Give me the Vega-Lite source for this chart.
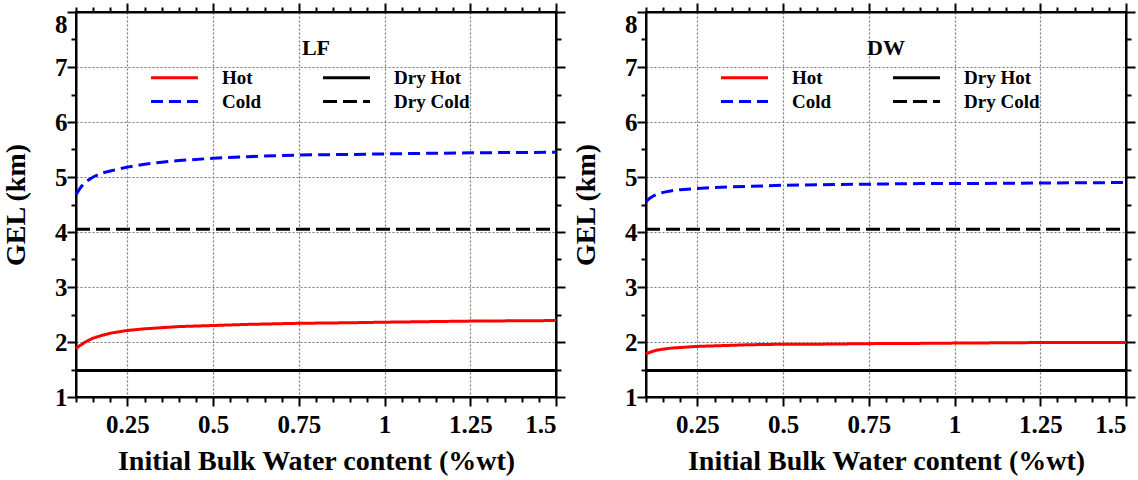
{
  "$schema": "https://vega.github.io/schema/vega-lite/v6.json",
  "padding": {"left": 1, "top": 1, "right": 5, "bottom": 2},
  "background": "white",
  "spacing": 90,
  "bounds": "flush",
  "config": {
    "view": {"stroke": "black", "strokeWidth": 2},
    "axis": {
      "titleFont": "Liberation Serif", "titleFontWeight": "bold", "titleFontSize": 28, "titleColor": "black",
      "labelFont": "Liberation Serif", "labelFontWeight": "bold", "labelFontSize": 25, "labelColor": "black",
      "domainColor": "black", "domainWidth": 2, "tickColor": "black", "tickWidth": 2,
      "gridColor": "#777777", "gridDash": [2, 2], "gridWidth": 1.2,
      "labelOverlap": false, "labelBound": false
    }
  },
  "data": {"values": [
    {"panel": "LF", "series": "Hot", "x": 0.1, "y": 1.88},
    {"panel": "LF", "series": "Hot", "x": 0.11, "y": 1.93},
    {"panel": "LF", "series": "Hot", "x": 0.12, "y": 1.97},
    {"panel": "LF", "series": "Hot", "x": 0.13, "y": 2.01},
    {"panel": "LF", "series": "Hot", "x": 0.15, "y": 2.07},
    {"panel": "LF", "series": "Hot", "x": 0.175, "y": 2.12},
    {"panel": "LF", "series": "Hot", "x": 0.2, "y": 2.16},
    {"panel": "LF", "series": "Hot", "x": 0.25, "y": 2.21},
    {"panel": "LF", "series": "Hot", "x": 0.3, "y": 2.24},
    {"panel": "LF", "series": "Hot", "x": 0.35, "y": 2.26},
    {"panel": "LF", "series": "Hot", "x": 0.4, "y": 2.28},
    {"panel": "LF", "series": "Hot", "x": 0.5, "y": 2.30},
    {"panel": "LF", "series": "Hot", "x": 0.6, "y": 2.32},
    {"panel": "LF", "series": "Hot", "x": 0.75, "y": 2.34},
    {"panel": "LF", "series": "Hot", "x": 0.9, "y": 2.35},
    {"panel": "LF", "series": "Hot", "x": 1.0, "y": 2.36},
    {"panel": "LF", "series": "Hot", "x": 1.25, "y": 2.38},
    {"panel": "LF", "series": "Hot", "x": 1.5, "y": 2.39},
    {"panel": "LF", "series": "Cold", "x": 0.1, "y": 4.68},
    {"panel": "LF", "series": "Cold", "x": 0.11, "y": 4.78},
    {"panel": "LF", "series": "Cold", "x": 0.12, "y": 4.86},
    {"panel": "LF", "series": "Cold", "x": 0.13, "y": 4.92},
    {"panel": "LF", "series": "Cold", "x": 0.15, "y": 5.00},
    {"panel": "LF", "series": "Cold", "x": 0.175, "y": 5.07},
    {"panel": "LF", "series": "Cold", "x": 0.2, "y": 5.11},
    {"panel": "LF", "series": "Cold", "x": 0.25, "y": 5.18},
    {"panel": "LF", "series": "Cold", "x": 0.3, "y": 5.23},
    {"panel": "LF", "series": "Cold", "x": 0.35, "y": 5.27},
    {"panel": "LF", "series": "Cold", "x": 0.4, "y": 5.30},
    {"panel": "LF", "series": "Cold", "x": 0.5, "y": 5.34},
    {"panel": "LF", "series": "Cold", "x": 0.6, "y": 5.37},
    {"panel": "LF", "series": "Cold", "x": 0.75, "y": 5.40},
    {"panel": "LF", "series": "Cold", "x": 0.9, "y": 5.41},
    {"panel": "LF", "series": "Cold", "x": 1.0, "y": 5.42},
    {"panel": "LF", "series": "Cold", "x": 1.25, "y": 5.44},
    {"panel": "LF", "series": "Cold", "x": 1.5, "y": 5.45},
    {"panel": "LF", "series": "Dry Hot", "x": 0.1, "y": 1.48},
    {"panel": "LF", "series": "Dry Hot", "x": 1.5, "y": 1.48},
    {"panel": "LF", "series": "Dry Cold", "x": 0.1, "y": 4.05},
    {"panel": "LF", "series": "Dry Cold", "x": 1.5, "y": 4.05},
    {"panel": "DW", "series": "Hot", "x": 0.1, "y": 1.78},
    {"panel": "DW", "series": "Hot", "x": 0.11, "y": 1.81},
    {"panel": "DW", "series": "Hot", "x": 0.12, "y": 1.83},
    {"panel": "DW", "series": "Hot", "x": 0.13, "y": 1.85},
    {"panel": "DW", "series": "Hot", "x": 0.15, "y": 1.87},
    {"panel": "DW", "series": "Hot", "x": 0.175, "y": 1.89},
    {"panel": "DW", "series": "Hot", "x": 0.2, "y": 1.90},
    {"panel": "DW", "series": "Hot", "x": 0.25, "y": 1.92},
    {"panel": "DW", "series": "Hot", "x": 0.3, "y": 1.93},
    {"panel": "DW", "series": "Hot", "x": 0.35, "y": 1.94},
    {"panel": "DW", "series": "Hot", "x": 0.4, "y": 1.95},
    {"panel": "DW", "series": "Hot", "x": 0.5, "y": 1.96},
    {"panel": "DW", "series": "Hot", "x": 0.6, "y": 1.96},
    {"panel": "DW", "series": "Hot", "x": 0.75, "y": 1.97},
    {"panel": "DW", "series": "Hot", "x": 0.9, "y": 1.975},
    {"panel": "DW", "series": "Hot", "x": 1.0, "y": 1.98},
    {"panel": "DW", "series": "Hot", "x": 1.25, "y": 1.99},
    {"panel": "DW", "series": "Hot", "x": 1.5, "y": 1.99},
    {"panel": "DW", "series": "Cold", "x": 0.1, "y": 4.55},
    {"panel": "DW", "series": "Cold", "x": 0.11, "y": 4.61},
    {"panel": "DW", "series": "Cold", "x": 0.12, "y": 4.65},
    {"panel": "DW", "series": "Cold", "x": 0.13, "y": 4.68},
    {"panel": "DW", "series": "Cold", "x": 0.15, "y": 4.72},
    {"panel": "DW", "series": "Cold", "x": 0.175, "y": 4.75},
    {"panel": "DW", "series": "Cold", "x": 0.2, "y": 4.77},
    {"panel": "DW", "series": "Cold", "x": 0.25, "y": 4.79},
    {"panel": "DW", "series": "Cold", "x": 0.3, "y": 4.81},
    {"panel": "DW", "series": "Cold", "x": 0.35, "y": 4.82},
    {"panel": "DW", "series": "Cold", "x": 0.4, "y": 4.83},
    {"panel": "DW", "series": "Cold", "x": 0.5, "y": 4.85},
    {"panel": "DW", "series": "Cold", "x": 0.6, "y": 4.86},
    {"panel": "DW", "series": "Cold", "x": 0.75, "y": 4.87},
    {"panel": "DW", "series": "Cold", "x": 0.9, "y": 4.88},
    {"panel": "DW", "series": "Cold", "x": 1.0, "y": 4.88},
    {"panel": "DW", "series": "Cold", "x": 1.25, "y": 4.89},
    {"panel": "DW", "series": "Cold", "x": 1.5, "y": 4.90},
    {"panel": "DW", "series": "Dry Hot", "x": 0.1, "y": 1.48},
    {"panel": "DW", "series": "Dry Hot", "x": 1.5, "y": 1.48},
    {"panel": "DW", "series": "Dry Cold", "x": 0.1, "y": 4.05},
    {"panel": "DW", "series": "Dry Cold", "x": 1.5, "y": 4.05}
  ]},
  "resolve": {"legend": {"color": "independent", "strokeDash": "independent"}},
  "hconcat": [
    {
      "width": 480, "height": 385,
      "title": {"text": "LF", "font": "Liberation Serif", "fontSize": 22, "fontWeight": "bold", "color": "black", "anchor": "middle", "frame": "group", "offset": -58},
      "transform": [{"filter": "datum.panel === 'LF'"}],
      "layer": [
        {
          "transform": [{"filter": "datum.series === 'Hot' || datum.series === 'Cold'"}],
          "mark": {"type": "line", "strokeWidth": 3},
          "encoding": {
            "x": {"field": "x", "type": "quantitative", "title": "Initial Bulk Water content (%wt)",
              "scale": {"domain": [0.1, 1.5], "nice": false, "zero": false},
              "axis": {"values": [0.1,0.15,0.2,0.25,0.3,0.35,0.4,0.45,0.5,0.55,0.6,0.65,0.7,0.75,0.8,0.85,0.9,0.95,1,1.05,1.1,1.15,1.2,1.25,1.3,1.35,1.4,1.45,1.5],
                "labelExpr": "round(datum.value*100) % 25 == 0 ? toString(datum.value) : ''",
                "labelFlush": true,
                "tickSize": {"condition": {"test": "round(datum.value*100) % 25 == 0", "value": 9}, "value": 5},
                "grid": true,
                "gridOpacity": {"condition": {"test": "round(datum.value*100) % 25 == 0", "value": 1}, "value": 0},
                "labelPadding": 6, "titlePadding": 10}},
            "y": {"field": "y", "type": "quantitative", "title": "GEL (km)",
              "scale": {"domain": [1, 8], "nice": false, "zero": false},
              "axis": {"values": [1,1.5,2,2.5,3,3.5,4,4.5,5,5.5,6,6.5,7,7.5,8],
                "labelExpr": "datum.value % 1 == 0 ? toString(datum.value) : ''",
                "labelFlush": false,
                "labelBaseline": {"condition": {"test": "datum.value == 8", "value": "top"}, "value": "middle"},
                "tickSize": {"condition": {"test": "datum.value % 1 == 0", "value": 9}, "value": 5},
                "grid": true,
                "gridOpacity": {"condition": {"test": "datum.value % 1 == 0", "value": 1}, "value": 0},
                "labelPadding": 0, "titlePadding": 24}},
            "color": {"field": "series", "type": "nominal",
              "scale": {"domain": ["Hot", "Cold", "Dry Hot", "Dry Cold"], "range": ["#ff0000", "#0000ff", "#000000", "#000000"]},
              "legend": {"title": null, "orient": "none", "legendX": 85, "legendY": 52, "columns": 2, "symbolType": "M-2,0L2,0", "symbolSize": 552, "symbolStrokeWidth": 3, "labelFont": "Liberation Serif", "labelFontSize": 19, "labelFontWeight": "bold", "labelColor": "black", "labelOffset": 34, "columnPadding": 55, "rowPadding": -4, "padding": 0}},
            "strokeDash": {"field": "series", "type": "nominal",
              "scale": {"domain": ["Hot", "Cold", "Dry Hot", "Dry Cold"], "range": [[1, 0], [12, 6], [1, 0], [14, 6]]},
              "legend": {"title": null, "orient": "none", "legendX": 85, "legendY": 52, "columns": 2, "symbolType": "M-2,0L2,0", "symbolSize": 552, "symbolStrokeWidth": 3, "labelFont": "Liberation Serif", "labelFontSize": 19, "labelFontWeight": "bold", "labelColor": "black", "labelOffset": 34, "columnPadding": 55, "rowPadding": -4, "padding": 0}}
          }
        },
        {
          "transform": [{"filter": "datum.series === 'Dry Hot' || datum.series === 'Dry Cold'"}],
          "mark": {"type": "line", "strokeWidth": 3},
          "encoding": {
            "x": {"field": "x", "type": "quantitative", "title": null,
              "axis": {"orient": "top", "labels": false, "grid": false, "values": [0.1,0.15,0.2,0.25,0.3,0.35,0.4,0.45,0.5,0.55,0.6,0.65,0.7,0.75,0.8,0.85,0.9,0.95,1,1.05,1.1,1.15,1.2,1.25,1.3,1.35,1.4,1.45,1.5],
                "tickSize": {"condition": {"test": "round(datum.value*100) % 25 == 0", "value": 9}, "value": 5}}},
            "y": {"field": "y", "type": "quantitative", "title": null,
              "axis": {"orient": "right", "labels": false, "grid": false, "values": [1,1.5,2,2.5,3,3.5,4,4.5,5,5.5,6,6.5,7,7.5,8],
                "tickSize": {"condition": {"test": "datum.value % 1 == 0", "value": 9}, "value": 5}}},
            "color": {"field": "series", "type": "nominal"},
            "strokeDash": {"field": "series", "type": "nominal"}
          }
        }
      ],
      "resolve": {"axis": {"x": "independent", "y": "independent"}}
    },
    {
      "width": 480, "height": 385,
      "title": {"text": "DW", "font": "Liberation Serif", "fontSize": 22, "fontWeight": "bold", "color": "black", "anchor": "middle", "frame": "group", "offset": -58},
      "transform": [{"filter": "datum.panel === 'DW'"}],
      "layer": [
        {
          "transform": [{"filter": "datum.series === 'Hot' || datum.series === 'Cold'"}],
          "mark": {"type": "line", "strokeWidth": 3},
          "encoding": {
            "x": {"field": "x", "type": "quantitative", "title": "Initial Bulk Water content (%wt)",
              "scale": {"domain": [0.1, 1.5], "nice": false, "zero": false},
              "axis": {"values": [0.1,0.15,0.2,0.25,0.3,0.35,0.4,0.45,0.5,0.55,0.6,0.65,0.7,0.75,0.8,0.85,0.9,0.95,1,1.05,1.1,1.15,1.2,1.25,1.3,1.35,1.4,1.45,1.5],
                "labelExpr": "round(datum.value*100) % 25 == 0 ? toString(datum.value) : ''",
                "labelFlush": true,
                "tickSize": {"condition": {"test": "round(datum.value*100) % 25 == 0", "value": 9}, "value": 5},
                "grid": true,
                "gridOpacity": {"condition": {"test": "round(datum.value*100) % 25 == 0", "value": 1}, "value": 0},
                "labelPadding": 6, "titlePadding": 10}},
            "y": {"field": "y", "type": "quantitative", "title": "GEL (km)",
              "scale": {"domain": [1, 8], "nice": false, "zero": false},
              "axis": {"values": [1,1.5,2,2.5,3,3.5,4,4.5,5,5.5,6,6.5,7,7.5,8],
                "labelExpr": "datum.value % 1 == 0 ? toString(datum.value) : ''",
                "labelFlush": false,
                "labelBaseline": {"condition": {"test": "datum.value == 8", "value": "top"}, "value": "middle"},
                "tickSize": {"condition": {"test": "datum.value % 1 == 0", "value": 9}, "value": 5},
                "grid": true,
                "gridOpacity": {"condition": {"test": "datum.value % 1 == 0", "value": 1}, "value": 0},
                "labelPadding": 0, "titlePadding": 24}},
            "color": {"field": "series", "type": "nominal",
              "scale": {"domain": ["Hot", "Cold", "Dry Hot", "Dry Cold"], "range": ["#ff0000", "#0000ff", "#000000", "#000000"]},
              "legend": {"title": null, "orient": "none", "legendX": 85, "legendY": 52, "columns": 2, "symbolType": "M-2,0L2,0", "symbolSize": 552, "symbolStrokeWidth": 3, "labelFont": "Liberation Serif", "labelFontSize": 19, "labelFontWeight": "bold", "labelColor": "black", "labelOffset": 34, "columnPadding": 55, "rowPadding": -4, "padding": 0}},
            "strokeDash": {"field": "series", "type": "nominal",
              "scale": {"domain": ["Hot", "Cold", "Dry Hot", "Dry Cold"], "range": [[1, 0], [12, 6], [1, 0], [14, 6]]},
              "legend": {"title": null, "orient": "none", "legendX": 85, "legendY": 52, "columns": 2, "symbolType": "M-2,0L2,0", "symbolSize": 552, "symbolStrokeWidth": 3, "labelFont": "Liberation Serif", "labelFontSize": 19, "labelFontWeight": "bold", "labelColor": "black", "labelOffset": 34, "columnPadding": 55, "rowPadding": -4, "padding": 0}}
          }
        },
        {
          "transform": [{"filter": "datum.series === 'Dry Hot' || datum.series === 'Dry Cold'"}],
          "mark": {"type": "line", "strokeWidth": 3},
          "encoding": {
            "x": {"field": "x", "type": "quantitative", "title": null,
              "axis": {"orient": "top", "labels": false, "grid": false, "values": [0.1,0.15,0.2,0.25,0.3,0.35,0.4,0.45,0.5,0.55,0.6,0.65,0.7,0.75,0.8,0.85,0.9,0.95,1,1.05,1.1,1.15,1.2,1.25,1.3,1.35,1.4,1.45,1.5],
                "tickSize": {"condition": {"test": "round(datum.value*100) % 25 == 0", "value": 9}, "value": 5}}},
            "y": {"field": "y", "type": "quantitative", "title": null,
              "axis": {"orient": "right", "labels": false, "grid": false, "values": [1,1.5,2,2.5,3,3.5,4,4.5,5,5.5,6,6.5,7,7.5,8],
                "tickSize": {"condition": {"test": "datum.value % 1 == 0", "value": 9}, "value": 5}}},
            "color": {"field": "series", "type": "nominal"},
            "strokeDash": {"field": "series", "type": "nominal"}
          }
        }
      ],
      "resolve": {"axis": {"x": "independent", "y": "independent"}}
    }
  ]
}
